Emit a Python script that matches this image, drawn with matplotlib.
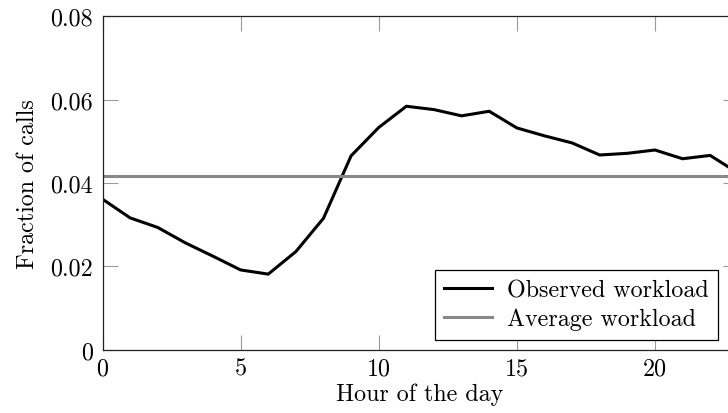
import matplotlib
matplotlib.use("Agg")
import matplotlib.pyplot as plt

hours = list(range(24))
fraction = [0.0361, 0.0316, 0.0293, 0.0256, 0.0224, 0.0191, 0.0181, 0.0235,
            0.0315, 0.0465, 0.0533, 0.0584, 0.0576, 0.0561, 0.0572, 0.0532,
            0.0513, 0.0496, 0.0467, 0.0471, 0.0479, 0.0458, 0.0466, 0.0424]
average = 1.0 / 24
xticks = [0, 5, 10, 15, 20]
yticks = [0, 0.02, 0.04, 0.06, 0.08]
ytick_labels = ["0", "0.02", "0.04", "0.06", "0.08"]

plt.rcParams["font.family"] = ["cmr10", "DejaVu Serif"]
plt.rcParams["mathtext.fontset"] = "cm"
plt.rcParams["axes.unicode_minus"] = False

FS = 17.3
fig = plt.figure(figsize=(7.28, 4.14), dpi=100)
ax = fig.add_axes([102.5 / 728, 63.5 / 414, (737.8 - 102.5) / 728, (350.5 - 17.3) / 414])

ax.plot(hours, fraction, color="black", lw=2.2, label="Observed workload", solid_joinstyle="miter")
ax.axhline(average, color="#888888", lw=2.2, label="Average workload")

ax.set_xlim(0, 23)
ax.set_ylim(0, 0.08)
ax.set_xticks(xticks)
ax.set_xticklabels([str(t) for t in xticks], fontsize=FS)
ax.set_yticks(yticks)
ax.set_yticklabels(ytick_labels, fontsize=FS)
ax.tick_params(direction="in", length=11, width=0.8, color="#999999",
               top=True, right=True)
ax.tick_params(axis="x", pad=6)
ax.tick_params(axis="y", pad=7)
for s in ax.spines.values():
    s.set_linewidth(0.9)
    s.set_color("#222222")

ax.set_xlabel("Hour of the day", fontsize=FS, labelpad=2)
ax.set_ylabel("Fraction of calls", fontsize=FS, labelpad=8)

leg = ax.legend(loc="lower right", bbox_to_anchor=(0.9688, 0.0285), fontsize=FS,
                frameon=True, fancybox=False, framealpha=1, edgecolor="black",
                handlelength=2.0, handletextpad=0.6, borderpad=0.4,
                labelspacing=0.25, borderaxespad=0)
leg.get_frame().set_linewidth(0.9)

fig.savefig("out.png", dpi=100)
